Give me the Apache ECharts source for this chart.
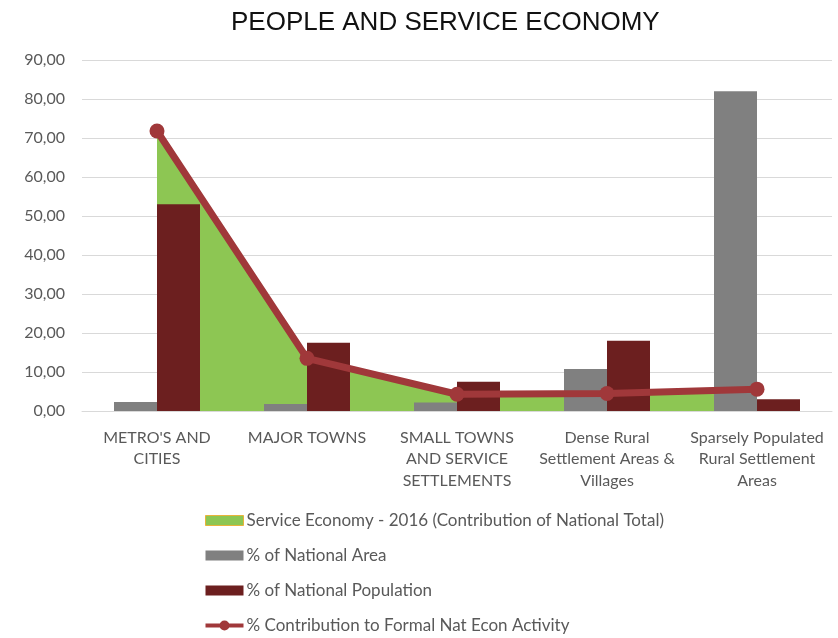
<!DOCTYPE html>
<html>
<head>
<meta charset="utf-8">
<script src="https://cdn.jsdelivr.net/npm/echarts@6/dist/echarts.min.js"></script>
<style>
  html, body { margin: 0; padding: 0; background: #fff; }
  #chart { width: 838px; height: 638px; }
</style>
</head>
<body>
<div id="chart"></div>
<script>
var categories = [
    "METRO'S AND\nCITIES",
    'MAJOR TOWNS',
    'SMALL TOWNS\nAND SERVICE\nSETTLEMENTS',
    'Dense Rural\nSettlement Areas &\nVillages',
    'Sparsely Populated\nRural Settlement\nAreas'
];
var serviceEconomy = [71.5, 13.5, 4.3, 4.5, 5.5];
var nationalArea = [2.3, 1.8, 2.2, 10.8, 82.0];
var nationalPopulation = [53.0, 17.5, 7.5, 18.0, 3.0];
var econActivity = [71.8, 13.5, 4.3, 4.5, 5.6];

var nameService = 'Service Economy - 2016 (Contribution of National Total)';
var nameArea = '% of National Area';
var namePop = '% of National Population';
var nameActivity = '% Contribution to Formal Nat Econ Activity';

var font = 'Lato, "Liberation Sans", sans-serif';
// legend icon for the line series: thick line with a dot in the middle
var lineIcon = 'path://M0,3h38v4h-38z M14,5a5,5 0 1,1 10,0a5,5 0 1,1 -10,0z';

var chart = echarts.init(document.getElementById('chart'));

var option = {
    animation: false,
    title: {
        text: 'PEOPLE AND SERVICE ECONOMY',
        left: 226,
        top: 5,
        textStyle: { fontFamily: '"Liberation Sans", Arial, sans-serif', fontSize: 26, fontWeight: 'normal', color: '#111' }
    },
    grid: { left: 82, right: 6, top: 60, height: 351 },
    legend: {
        orient: 'vertical',
        left: 205,
        top: 512,
        padding: 0,
        height: 126,
        itemWidth: 38,
        itemHeight: 10,
        itemGap: 18,
        textStyle: { fontFamily: font, fontSize: 17, color: '#595959', padding: [0, 0, 0, -2] },
        data: [
            { name: nameService, icon: 'rect', itemStyle: { color: '#8DC653', borderColor: '#E8B33A', borderWidth: 1 } },
            { name: nameArea, icon: 'rect' },
            { name: namePop, icon: 'rect' },
            { name: nameActivity, icon: lineIcon, itemStyle: { color: '#A0383A' } }
        ]
    },
    xAxis: {
        type: 'category',
        data: categories,
        axisTick: { show: false },
        axisLine: { lineStyle: { color: '#d9d9d9' } },
        axisLabel: { interval: 0, fontFamily: font, fontSize: 16, color: '#595959', lineHeight: 21.5, margin: 16 }
    },
    yAxis: {
        type: 'value',
        min: 0,
        max: 90,
        interval: 10,
        axisLabel: {
            fontFamily: font, fontSize: 16, color: '#595959', margin: 17,
            formatter: function (v) { return v.toFixed(2).replace('.', ','); }
        },
        splitLine: { lineStyle: { color: '#d9d9d9', width: 1 } }
    },
    series: [
        {
            name: nameService,
            type: 'line',
            data: serviceEconomy,
            symbol: 'none',
            z: 1,
            lineStyle: { color: '#E8B33A', width: 1 },
            itemStyle: { color: '#8DC653' },
            areaStyle: { color: '#8DC653', opacity: 1 }
        },
        {
            name: nameArea,
            type: 'bar',
            data: nationalArea,
            barWidth: 43,
            barGap: '0%',
            z: 2,
            itemStyle: { color: '#808080' }
        },
        {
            name: namePop,
            type: 'bar',
            data: nationalPopulation,
            barWidth: 43,
            barGap: '0%',
            z: 2,
            itemStyle: { color: '#6C1F1F' }
        },
        {
            name: nameActivity,
            type: 'line',
            data: econActivity,
            symbol: 'circle',
            symbolSize: 15,
            z: 3,
            lineStyle: { color: '#A0383A', width: 7 },
            itemStyle: { color: '#A0383A' }
        }
    ]
};

chart.setOption(option);
</script>
</body>
</html>
